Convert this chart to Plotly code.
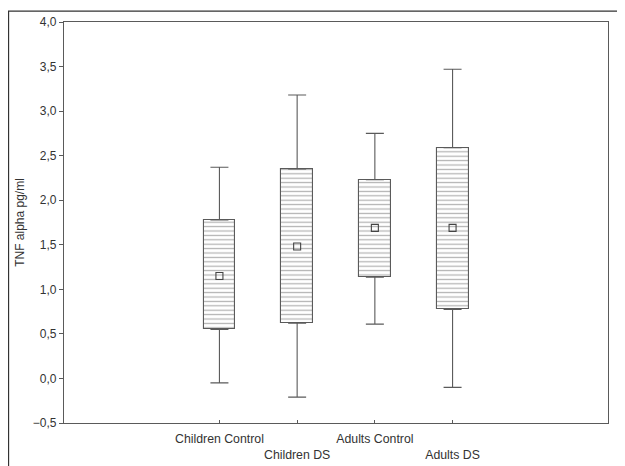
import plotly.graph_objects as go

categories = ["Children Control", "Children DS", "Adults Control", "Adults DS"]
tick_labels = ["Children Control", "<br>Children DS", "Adults Control", "<br>Adults DS"]
means = [1.15, 1.48, 1.69, 1.69]
box_low = [0.55, 0.62, 1.135, 0.775]
box_high = [1.78, 2.35, 2.23, 2.59]
whisker_low = [-0.05, -0.21, 0.61, -0.10]
whisker_high = [2.37, 3.18, 2.75, 3.47]
y_ticks = [-0.5, 0.0, 0.5, 1.0, 1.5, 2.0, 2.5, 3.0, 3.5, 4.0]

xpos = list(range(len(categories)))
line_col = "#5a5a5a"
font = dict(family="Liberation Sans, Arial, sans-serif", size=12, color="#333333")
xfont = dict(family="Liberation Sans, Arial, sans-serif", size=12.3, color="#333333")

fig = go.Figure()

# upper whiskers
fig.add_trace(go.Scatter(
    x=xpos, y=box_high, mode="markers", marker=dict(size=1, opacity=0),
    error_y=dict(type="data", symmetric=False,
                 array=[h - q for h, q in zip(whisker_high, box_high)],
                 arrayminus=[0] * len(xpos), width=9, thickness=1.1, color=line_col),
    showlegend=False, hoverinfo="skip"))
# lower whiskers
fig.add_trace(go.Scatter(
    x=xpos, y=box_low, mode="markers", marker=dict(size=1, opacity=0),
    error_y=dict(type="data", symmetric=False,
                 array=[0] * len(xpos),
                 arrayminus=[q - l for q, l in zip(box_low, whisker_low)],
                 width=9, thickness=1.1, color=line_col),
    showlegend=False, hoverinfo="skip"))

# boxes
fig.add_trace(go.Bar(
    x=xpos, y=[h - l for h, l in zip(box_high, box_low)], base=box_low,
    width=0.41,
    marker=dict(color="white", line=dict(color=line_col, width=1.1),
                pattern=dict(shape="-", size=4.4, solidity=0.28,
                             fgcolor="#666666", bgcolor="white", fillmode="overlay")),
    showlegend=False, hoverinfo="skip"))

# means
fig.add_trace(go.Scatter(
    x=xpos, y=means, mode="markers",
    marker=dict(symbol="square-open", size=7, color="#444444", line=dict(width=1.1)),
    showlegend=False, hoverinfo="skip"))

# page body has an 8px default margin, so the figure is offset by 8px
fig.update_layout(
    width=617, height=458,
    margin=dict(l=56, r=17, t=14, b=43, autoexpand=False),
    paper_bgcolor="white", plot_bgcolor="white",
    separators=",.",
    font=font,
    bargap=0,
    xaxis=dict(range=[-2, 5], tickmode="array", tickvals=xpos, ticktext=tick_labels,
               tickangle=0,
               ticks="inside", ticklen=3, tickcolor=line_col, ticklabelstandoff=4,
               showline=True, linecolor=line_col, linewidth=1.2, mirror=True,
               showgrid=False, zeroline=False, tickfont=xfont, automargin=False),
    yaxis=dict(range=[-0.5, 4.0], tickmode="array", tickvals=y_ticks, tickformat=".1f",
               ticks="outside", ticklen=4, tickcolor=line_col,
               showline=True, linecolor=line_col, linewidth=1.2, mirror=True,
               showgrid=False, zeroline=False, tickfont=font, automargin=False,
               title=dict(text="TNF alpha pg/ml", font=font, standoff=5)),
)

# outer frame of the figure panel
fig.add_shape(type="path", xref="paper", yref="paper",
              path="M -0.102,-0.3 L -0.102,1.027 L 1.2,1.027",
              line=dict(color="#333333", width=1.3))

fig.write_html("out.html")
